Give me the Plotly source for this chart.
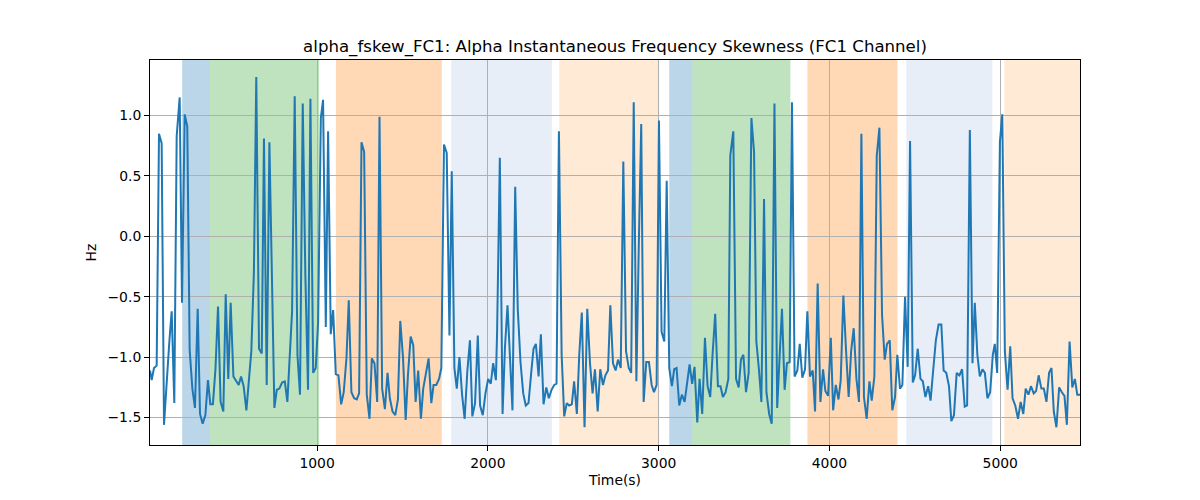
import plotly.graph_objects as go

# time (s) and skewness values
time_s = [21.7, 31.4, 45, 60.7, 74.4, 90, 103.7, 121, 135, 148.6, 164, 178, 195.5, 209, 224.8, 240, 254, 269.7,
          285, 301, 314.6, 330, 346, 361, 375, 390, 405, 420, 435, 451, 465, 480, 494, 510, 525, 541, 554.8, 570,
          586, 601, 615, 630, 644, 660, 676, 689, 705, 720.8, 735, 750, 764, 779, 795, 811, 826, 840, 853.6, 869,
          885, 900, 916, 931, 947, 961, 977, 992, 1006, 1022, 1035, 1051, 1064.5, 1080, 1094, 1109.5, 1125, 1141,
          1156, 1172, 1185.5, 1201, 1217, 1232.5, 1246, 1260, 1275.6, 1291, 1307, 1320.5, 1336, 1352, 1365.5,
          1381, 1397, 1412.6, 1426, 1442, 1458, 1473.5, 1487, 1503, 1518.7, 1532, 1548, 1563, 1577, 1592, 1608,
          1621.5, 1637, 1653, 1668.8, 1682, 1698, 1714, 1727.5, 1743, 1759, 1775, 1788.5, 1804, 1818, 1833.5,
          1849, 1864, 1880, 1895, 1909, 1925, 1941, 1954.5, 1970, 1986, 2001.6, 2017, 2031, 2047, 2054, 2070,
          2086, 2100, 2115, 2130, 2144, 2160, 2175, 2191, 2207, 2222, 2238, 2253, 2267.3, 2281, 2297, 2310.3,
          2326, 2342, 2357, 2373, 2388.5, 2402, 2416, 2432, 2447, 2462, 2476, 2491.5, 2505, 2521, 2535, 2550,
          2566, 2582, 2598, 2613, 2627, 2643, 2658, 2674, 2688, 2703.5, 2717, 2732.6, 2748, 2762, 2778, 2793,
          2809, 2825, 2839, 2854, 2869.6, 2884, 2898, 2912, 2927.5, 2943, 2959, 2972.5, 2988, 3001.7, 3017,
          3033, 3047, 3062, 3077.5, 3091, 3105, 3120.5, 3136, 3152, 3165.4, 3181, 3196, 3210, 3226, 3239.6,
          3255, 3271, 3286.5, 3302, 3316, 3331, 3347, 3362, 3376, 3392, 3408, 3419.5, 3437, 3453, 3468.6, 3482,
          3496, 3511.5, 3527, 3543, 3558.5, 3572, 3587, 3601.5, 3617, 3631, 3647, 3662, 3678, 3694, 3708, 3722,
          3737.5, 3751, 3767, 3780.5, 3796, 3812, 3826, 3841, 3857, 3870.6, 3886, 3902, 3915.7, 3931, 3947,
          3962.5, 3976, 3992, 4008, 4021.5, 4037, 4053, 4066, 4081.5, 4097, 4112.5, 4127, 4142, 4158, 4173,
          4187, 4202, 4218, 4234, 4247.5, 4263, 4277, 4292.5, 4308, 4323.6, 4337, 4353, 4368, 4384, 4397.5,
          4413, 4427, 4442.5, 4458, 4472, 4488, 4501.5, 4517, 4533, 4546.6, 4562, 4578, 4592, 4608, 4623,
          4639, 4655, 4668.6, 4684, 4700, 4713.6, 4729, 4745, 4761, 4776.5, 4792, 4806, 4822, 4837.5, 4851,
          4866, 4880.5, 4896, 4910, 4925, 4941, 4956.5, 4968, 4982, 4998, 5012, 5027, 5043, 5058.6, 5072,
          5088, 5104, 5119.5, 5135, 5149, 5165, 5180, 5196, 5210, 5225, 5241, 5255, 5270.6, 5286, 5300,
          5313.6, 5329, 5345, 5360.7, 5376, 5390, 5406, 5422, 5437, 5451, 5467]
skew_hz = [-1.11, -1.19, -1.09, -1.07, 0.85, 0.77, -1.56, -1.15, -0.87, -0.62, -1.38, 0.83, 1.15, -0.55, 1.01,
           0.91, -0.94, -1.26, -1.42, -0.60, -1.47, -1.55, -1.48, -1.19, -1.39, -1.39, -1.10, -0.58, -1.37,
           -1.45, -0.48, -1.18, -0.55, -1.16, -1.19, -1.23, -1.16, -1.24, -1.44, -1.22, -0.95, -0.30, 1.32,
           -0.93, -0.97, 0.81, -1.23, 0.78, -0.40, -1.42, -1.27, -1.26, -1.21, -1.20, -1.37, -1.00, -0.62,
           1.16, -0.98, -1.31, 1.10, -0.30, -1.27, 1.14, -1.13, -1.09, -0.71, 0.98, 1.13, -0.75, 0.87, -0.81,
           -0.61, -1.14, -1.15, -1.39, -1.29, -1.01, -0.53, -1.29, -1.34, -1.35, -1.30, 0.78, 0.70, -1.31,
           -1.51, -1.01, -1.05, -1.37, 0.99, -1.26, -1.43, -1.13, -1.34, -1.45, -1.48, -1.35, -0.70, -1.00,
           -1.52, -1.15, -0.83, -0.90, -1.37, -1.11, -1.51, -1.26, -1.14, -1.01, -1.38, -1.23, -1.23, -1.18,
           -1.09, 0.76, 0.69, -0.82, 0.54, -1.09, -1.26, -1.00, -1.31, -1.51, -1.11, -0.86, -1.49, -1.38,
           -0.82, -1.40, -1.48, -1.30, -1.18, -1.22, -1.05, -1.19, -0.79, 0.65, -1.47, -0.92, -0.57, -1.10,
           -1.44, 0.41, -0.60, -1.04, -1.30, -1.40, -1.38, -1.14, -0.93, -0.89, -1.16, -0.81, -1.39, -1.25,
           -1.34, -1.27, -1.23, -1.22, 0.87, -0.98, -1.49, -1.38, -1.40, -1.39, -1.20, -1.47, -0.98, -0.63,
           -1.58, -0.60, -1.05, -1.30, -1.10, -1.45, -1.10, -1.23, -1.15, -1.11, -0.57, -1.05, -1.11, -1.02,
           -1.09, 0.62, -0.95, -1.09, -1.13, 1.11, -1.20, -0.05, 0.93, -1.37, -1.04, -1.04, -1.23, -1.29,
           -1.23, 0.96, -0.79, -0.87, 0.46, -1.09, -1.24, -1.10, -1.09, -1.40, -1.31, -1.37, -1.23, -1.06,
           -1.22, -1.08, -1.54, -1.18, -1.47, -0.84, -1.24, -1.33, -0.97, -0.64, -1.24, -1.24, -1.33, -1.29,
           -1.18, 0.67, 0.87, -1.18, -1.25, -1.02, -0.98, -1.29, -1.13, 0.98, 0.70, -0.87, -1.10, -1.37, 0.31,
           -1.29, -1.47, -1.55, 1.10, -1.42, -1.00, -0.60, -1.27, -1.05, -1.04, 1.11, -1.16, -1.11, -0.89,
           -1.17, -1.10, -0.62, -1.16, -1.11, -1.45, -0.39, -1.37, -1.10, -1.28, -1.32, -0.84, -1.44, -1.23,
           -1.35, -1.19, -0.49, -0.94, -1.33, -0.95, -0.76, -1.18, -1.37, 0.85, -1.33, -1.51, -1.20, -1.36,
           -1.16, 0.67, 0.90, -0.65, -1.02, -0.89, -0.86, -1.44, -1.33, -0.98, -1.26, -1.23, -0.50, -1.08,
           0.79, -1.21, -1.15, -0.93, -1.18, -1.20, -1.33, -1.24, -1.36, -1.10, -0.86, -0.73, -0.73, -1.11,
           -1.13, -1.24, -1.53, -1.48, -1.13, -1.15, -1.10, -1.41, -1.40, 0.88, -1.05, -0.55, -0.98, -1.16,
           -1.10, -1.13, -1.34, -1.29, -0.98, -0.89, -1.13, 0.78, 1.01, -0.95, -1.27, -0.91, -1.34, -1.40,
           -1.51, -1.37, -1.47, -1.26, -1.31, -1.24, -1.30, -1.28, -1.15, -1.26, -1.26, -1.37, -1.13, -1.09,
           -1.45, -1.58, -1.25, -1.29, -1.32, -1.56, -0.87, -1.25, -1.18, -1.31, -1.31]

# shaded phases: start, end, colour
span_start = [210, 373, 1110, 1785, 2418, 3062, 3197, 3871, 4450, 5024]
span_end = [373, 1012, 1730, 2375, 3003, 3197, 3771, 4398, 4954, 5467]
span_color = ["#1f77b4", "#2ca02c", "#ff7f0e", "#aec7e8", "#ffbb78",
              "#1f77b4", "#2ca02c", "#ff7f0e", "#aec7e8", "#ffbb78"]

x_ticks = [1000, 2000, 3000, 4000, 5000]
y_ticks = [-1.5, -1.0, -0.5, 0.0, 0.5, 1.0]
y_ticktext = ["\u22121.5", "\u22121.0", "\u22120.5", "0.0", "0.5", "1.0"]

fig = go.Figure()
fig.add_trace(go.Scatter(x=time_s, y=skew_hz, mode="lines",
                         line=dict(color="#1f77b4", width=2), showlegend=False))

shapes = []
for s, e, c in zip(span_start, span_end, span_color):
    shapes.append(dict(type="rect", xref="x", yref="paper", x0=s, x1=e, y0=0, y1=1,
                       fillcolor=c, opacity=0.3, line=dict(width=0), layer="below"))
fig.update_layout(shapes=shapes)

font = "DejaVu Sans"
fig.update_layout(
    width=1200, height=500,
    margin=dict(l=142, r=128, t=52, b=63),
    paper_bgcolor="white", plot_bgcolor="white",
    title=dict(text="alpha_fskew_FC1: Alpha Instantaneous Frequency Skewness (FC1 Channel)",
               xref="paper", x=0.5, xanchor="center", y=1 - 38 / 500, yanchor="middle",
               font=dict(family=font, size=16.6, color="black")),
    font=dict(family=font, size=13.9, color="black"),
)
fig.update_xaxes(range=[21.7, 5467], tickvals=x_ticks, ticks="outside", ticklen=5, tickcolor="black",
                 showgrid=True, gridcolor="#b0b0b0", gridwidth=1, showline=True, linecolor="black",
                 mirror=True, zeroline=False, layer="above traces",
                 title=dict(text="Time(s)", font=dict(family=font, size=13.9), standoff=5))
fig.update_yaxes(range=[-1.727, 1.46], tickvals=y_ticks, ticktext=y_ticktext, ticks="outside", ticklen=5,
                 tickcolor="black", showgrid=True, gridcolor="#b0b0b0", gridwidth=1, showline=True,
                 linecolor="black", mirror=True, zeroline=False,
                 title=dict(text="Hz", font=dict(family=font, size=13.9), standoff=7))

fig.write_html("out.html")
